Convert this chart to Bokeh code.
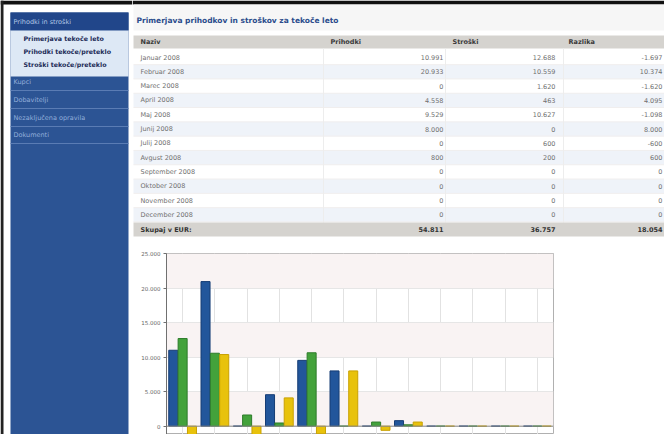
from bokeh.plotting import figure
from bokeh.layouts import row, column
from bokeh.models import ColumnDataSource, Range1d, FixedTicker, Span
from bokeh.transform import dodge
from bokeh.core.properties import value
from bokeh.embed import file_html
from bokeh.resources import INLINE

# ---------------- data ----------------
months = ["Januar 2008", "Februar 2008", "Marec 2008", "April 2008", "Maj 2008",
          "Junij 2008", "Julij 2008", "Avgust 2008", "September 2008",
          "Oktober 2008", "November 2008", "December 2008"]
prihodki = [10991, 20933, 0, 4558, 9529, 8000, 0, 800, 0, 0, 0, 0]
stroski = [12688, 10559, 1620, 463, 10627, 0, 600, 200, 0, 0, 0, 0]
razlika = [-1697, 10374, -1620, 4095, -1098, 8000, -600, 600, 0, 0, 0, 0]
totals = [54811, 36757, 18054]
total_label = "Skupaj v EUR:"
columns_hdr = ["Naziv", "Prihodki", "Stroški", "Razlika"]
title_text = "Primerjava prihodkov in stroškov za tekoče leto"
menu_head = "Prihodki in stroški"
submenu = ["Primerjava tekoče leto", "Prihodki tekoče/preteklo", "Stroški tekoče/preteklo"]
menu_items = ["Kupci", "Dobavitelji", "Nezaključena opravila", "Dokumenti"]
y_ticks = [0, 5000, 10000, 15000, 20000, 25000]
y_tick_labels = ["0", "5.000", "10.000", "15.000", "20.000", "25.000"]

FONT = value("DejaVu Sans")


def fmt(v):
    return f"{v:,}".replace(",", ".")


def canvas(w, h):
    p = figure(width=w, height=h, x_range=Range1d(0, w), y_range=Range1d(h, 0),
               x_axis_location=None, y_axis_location=None, toolbar_location=None,
               output_backend="svg", min_border=0)
    p.grid.visible = False
    p.outline_line_color = None
    p.background_fill_color = "white"
    p.border_fill_color = "white"
    return p


# ---------------- sidebar ----------------
SW, H = 132, 434
side = canvas(SW, H)
side.quad(left=[0], right=[SW], top=[0], bottom=[4], fill_color="#111111", line_color=None)
side.quad(left=[0], right=[3], top=[0], bottom=[H], fill_color="#222222", line_color=None)
side.quad(left=[10], right=[128], top=[12], bottom=[H], fill_color="#2c5494", line_color=None)
side.quad(left=[10], right=[128], top=[12], bottom=[30], fill_color="#21468a", line_color=None)
side.quad(left=[10], right=[128], top=[30], bottom=[76], fill_color="#dde8f5", line_color=None)
side.text(x=[13], y=[21], text=[menu_head], text_font=FONT, text_font_size=value("6.5px"),
          text_color="#b3c7e6", text_baseline="middle")
side.text(x=[23] * len(submenu), y=[38, 51, 64], text=submenu, text_font=FONT,
          text_font_size=value("6.3px"), text_font_style="bold", text_color="#1c2b57",
          text_baseline="middle")
item_y = [81, 99, 117, 134]
side.text(x=[13] * len(menu_items), y=item_y, text=menu_items, text_font=FONT,
          text_font_size=value("6.5px"), text_color="#93afdb", text_baseline="middle")
side.segment(x0=[10] * 4, x1=[128] * 4, y0=[y + 9 for y in item_y], y1=[y + 9 for y in item_y],
             line_color="#5a7cb4", line_width=1)

# ---------------- table ----------------
TW, TH = 532, 245
tab = canvas(TW, TH)
tab.quad(left=[0], right=[TW], top=[0], bottom=[4], fill_color="#111111", line_color=None)
tab.quad(left=[1], right=[TW], top=[4], bottom=[30], fill_color="#f6f6f6", line_color=None)
tab.text(x=[4], y=[20], text=[title_text], text_font=FONT, text_font_size=value("7.5px"),
         text_font_style="bold", text_color="#2b4c8c", text_baseline="middle")
# header
tab.quad(left=[1], right=[TW], top=[35], bottom=[48], fill_color="#d5d3cf", line_color=None)
hdr_x = [8, 198, 320, 436]
tab.text(x=hdr_x, y=[41.5] * 4, text=columns_hdr, text_font=FONT, text_font_size=value("6.5px"),
         text_font_style="bold", text_color="#3a3a3a", text_baseline="middle")
# rows
row_y = [57 + i * 14.3 for i in range(len(months))]
stripe_y = [y for i, y in enumerate(row_y) if i % 2 == 1]
tab.quad(left=[1] * len(stripe_y), right=[TW] * len(stripe_y),
         top=[y - 7.15 for y in stripe_y], bottom=[y + 7.15 for y in stripe_y],
         fill_color="#eff3f9", line_color=None)
tab.segment(x0=[1] * len(row_y), x1=[TW] * len(row_y), y0=[y + 7.15 for y in row_y],
            y1=[y + 7.15 for y in row_y], line_color="#f0eeee", line_width=1)
tab.segment(x0=[191, 313, 431], x1=[191, 313, 431], y0=[48] * 3, y1=[222] * 3,
            line_color="#ededed", line_width=1)
tab.text(x=[8] * len(months), y=row_y, text=months, text_font=FONT, text_font_size=value("6.5px"),
         text_color="#707070", text_baseline="middle")
num_src = ColumnDataSource(dict(
    x=[311] * 12 + [423] * 12 + [530] * 12,
    y=row_y * 3,
    t=[fmt(v) for v in prihodki] + [fmt(v) for v in stroski] + [fmt(v) for v in razlika]))
tab.text(x="x", y="y", text="t", source=num_src, text_font=FONT, text_font_size=value("6.5px"),
         text_color="#707070", text_baseline="middle", text_align="right")
# totals
tab.quad(left=[1], right=[TW], top=[222], bottom=[236], fill_color="#d5d3cf", line_color=None)
tab.text(x=[8], y=[229], text=[total_label], text_font=FONT, text_font_size=value("6.5px"),
         text_font_style="bold", text_color="#333333", text_baseline="middle")
tab.text(x=[311, 423, 530], y=[229] * 3, text=[fmt(v) for v in totals], text_font=FONT,
         text_font_size=value("6.5px"), text_font_style="bold", text_color="#333333",
         text_baseline="middle", text_align="right")

# ---------------- chart ----------------
CH = H - TH
src = ColumnDataSource(dict(m=months, p=prihodki, s=stroski, r=razlika))
ch = figure(width=TW, height=CH, x_range=months, y_range=Range1d(-1204, 25000),
            x_axis_location=None, toolbar_location=None, output_backend="svg",
            min_border_left=34, min_border_right=111, min_border_top=8, min_border_bottom=0)
ch.background_fill_color = "white"
ch.border_fill_color = "white"
ch.outline_line_color = "#b0b0b0"
ch.xgrid.grid_line_color = "#e2e2e2"
ch.ygrid.grid_line_color = "#e6e6e6"
ch.ygrid.band_fill_color = "#f9f3f3"
ch.ygrid.band_fill_alpha = 1.0
ch.yaxis.ticker = FixedTicker(ticks=y_ticks)
ch.yaxis.major_label_overrides = dict(zip(y_ticks, y_tick_labels))
ch.yaxis.major_label_text_font = "DejaVu Sans"
ch.yaxis.major_label_text_font_size = "5.5px"
ch.yaxis.major_label_text_color = "#666666"
ch.yaxis.axis_line_color = "#707070"
ch.yaxis.major_tick_line_color = "#707070"
ch.yaxis.major_tick_out = 3
ch.yaxis.major_tick_in = 0
ch.yaxis.minor_tick_line_color = None
ch.yaxis.major_label_standoff = 3
ch.add_layout(Span(location=0, dimension="width", line_color="#8a8a8a", line_width=1))

bw = 0.28
ch.vbar(x=dodge("m", -0.29, range=ch.x_range), top="p", width=bw, source=src,
        fill_color="#22569b", line_color="#163d75")
ch.vbar(x=dodge("m", 0.0, range=ch.x_range), top="s", width=bw, source=src,
        fill_color="#43a23b", line_color="#2d7c2a")
ch.vbar(x=dodge("m", 0.29, range=ch.x_range), top="r", width=bw, source=src,
        fill_color="#e8c20c", line_color="#c9a103")

layout = row(side, column(tab, row(ch, spacing=0), spacing=0), spacing=0)
open("out.html", "w").write(file_html(layout, INLINE))
